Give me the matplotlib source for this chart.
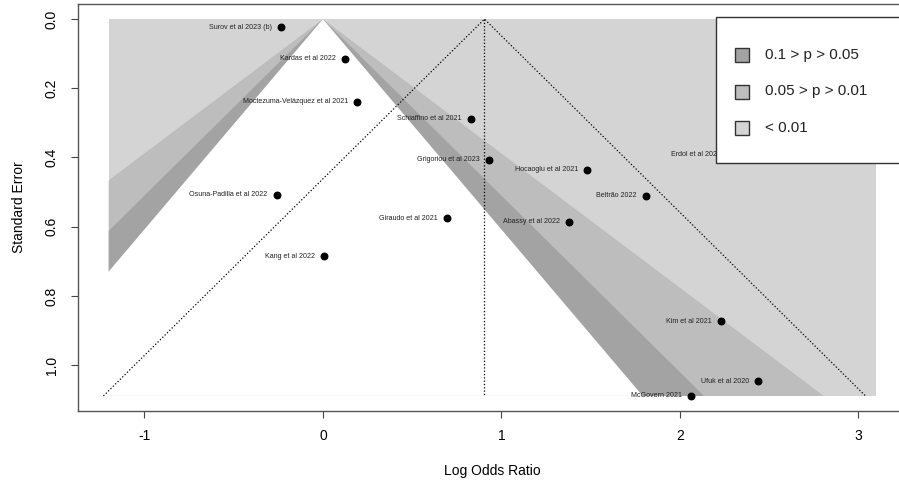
import numpy as np
import matplotlib
matplotlib.use("Agg")
import matplotlib.pyplot as plt
from matplotlib.patches import Rectangle

plt.rcParams['font.family'] = ['Liberation Sans', 'DejaVu Sans']

# study estimates (log odds ratio) and standard errors
studies = ["Surov et al 2023 (b)", "Kardas et al 2022", "Moctezuma-Velázquez et al 2021",
           "Schiaffino et al 2021", "Grigoriou et al 2023", "Hocaoglu et al 2021",
           "Erdol et al 2022", "Beltrão 2022", "Osuna-Padilla et al 2022",
           "Giraudo et al 2021", "Abassy et al 2022", "Kang et al 2022",
           "Kim et al 2021", "Ufuk et al 2020", "McGovern 2021"]
lor = [-0.234, 0.124, 0.19, 0.83, 0.93, 1.48, 2.28, 1.81, -0.26, 0.695, 1.38, 0.007, 2.23, 2.44, 2.06]
se = [0.023, 0.115, 0.239, 0.288, 0.406, 0.435, 0.39, 0.51, 0.507, 0.576, 0.585, 0.686, 0.873, 1.046, 1.089]

pooled = 0.905
x_range = (-1.2, 3.1)

# contour levels: z, colour, legend text
levels = [2.576, 1.96, 1.645]
shade = ["#bdbdbd", "#a3a3a3", "white"]
back_col = "#d4d4d4"
leg_labels = ["0.1 > p > 0.05", "0.05 > p > 0.01", "< 0.01"]
leg_cols = ["#a3a3a3", "#bdbdbd", "#d4d4d4"]

W, H = 899, 492
fig = plt.figure(figsize=(W / 100, H / 100), dpi=100)
ax = fig.add_axes([78 / W, 1 - 411 / H, (907 - 78) / W, (411 - 4) / H])

se_max = max(se)
xmin, xmax = x_range
xpad = 0.04 * (xmax - xmin)
ypad = 0.04 * se_max

ax.add_patch(Rectangle((xmin, 0), xmax - xmin, se_max, facecolor=back_col, edgecolor='none', zorder=0))
sg = np.linspace(0, se_max, 400)
for z, c in zip(levels, shade):
    # white region may spill past the shaded box so no grey seam shows at its edge
    lo = xmin - xpad if c == "white" else xmin
    ax.fill_betweenx(sg, np.maximum(-z * sg, lo), np.minimum(z * sg, xmax),
                     facecolor=c, edgecolor='none', zorder=1)

# pooled estimate and 95% pseudo-CI
ax.plot([pooled, pooled], [0, se_max], color='black', ls=':', lw=0.9, zorder=2)
ax.plot([pooled - 1.96 * se_max, pooled, pooled + 1.96 * se_max], [se_max, 0, se_max],
        color='black', ls=':', lw=0.9, zorder=2)

ax.scatter(lor, se, s=22, color='black', zorder=3)
for name, x, y in zip(studies, lor, se):
    ax.annotate(name, (x, y), xytext=(-6.5, 0), textcoords='offset points',
                ha='right', va='center', fontsize=5.1, color='#222222', zorder=3)

ax.set_xlim(xmin - xpad, xmax + xpad)
ax.set_ylim(se_max + ypad, -ypad)

ax.set_xticks([-1, 0, 1, 2, 3])
ax.set_xticklabels(["-1", "0", "1", "2", "3"])
ax.set_yticks([0, 0.2, 0.4, 0.6, 0.8, 1.0])
ax.set_yticklabels(["0.0", "0.2", "0.4", "0.6", "0.8", "1.0"], rotation=90, va='center')
ax.tick_params(axis='x', length=5, pad=8, labelsize=10, color='#444444')
ax.tick_params(axis='y', length=5, pad=9, labelsize=10, color='#444444')
for s in ax.spines.values():
    s.set_color('#555555')
    s.set_linewidth(1)

ax.set_xlabel("Log Odds Ratio", fontsize=10, labelpad=15)
ax.set_ylabel("Standard Error", fontsize=10, labelpad=13)

# legend box (runs off the right edge like the original)
def px(x, y):
    return x / W, 1 - y / H

bx, by = px(716, 163)
fig.patches.append(Rectangle((bx, by), (920 - 716) / W, (163 - 17) / H, transform=fig.transFigure,
                             facecolor='white', edgecolor='#333333', lw=1, zorder=10))
for i, (lab, c) in enumerate(zip(leg_labels, leg_cols)):
    yc = 55 + i * 36.5
    sx, sy = px(735, yc + 7)
    fig.patches.append(Rectangle((sx, sy), 14 / W, 14 / H, transform=fig.transFigure,
                                 facecolor=c, edgecolor='#333333', lw=1, zorder=11))
    tx, ty = px(765, yc)
    fig.text(tx, ty, lab, fontsize=11, va='center', ha='left', color='#222222', zorder=11)

fig.savefig("out.png", dpi=100)
